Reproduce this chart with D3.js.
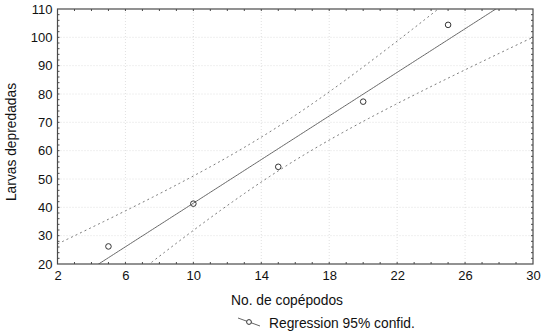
<!DOCTYPE html>
<html>
<head>
<meta charset="utf-8">
<script src="https://cdn.jsdelivr.net/npm/d3@7"></script>
<style>
  html, body { margin: 0; padding: 0; background: #fff; }
  svg { display: block; font-family: "Liberation Sans", Arial, sans-serif; }
</style>
</head>
<body>
<svg id="chart" width="550" height="334"></svg>
<script>
// Observations: number of copepods vs. predated larvae
const copepods = [5, 10, 15, 20, 25];
const larvae = [26.2, 41.3, 54.3, 77.3, 104.4];

const xTicks = [2, 6, 10, 14, 18, 22, 26, 30];
const yTicks = [20, 30, 40, 50, 60, 70, 80, 90, 100, 110];
const xLabel = "No. de copépodos";
const yLabel = "Larvas depredadas";
const legendLabel = "Regression 95% confid.";
const tCrit = 3.182; // Student t, 0.975 quantile, df = 3

const svg = d3.select("#chart");
const padL = 57.5, padR = 533, padT = 9, padB = 264;

const x = d3.scaleLinear().domain([2, 30]).range([padL, padR]);
const y = d3.scaleLinear().domain([20, 110]).range([padB, padT]);

// Least-squares fit with confidence band for the mean
const n = copepods.length;
const mx = d3.mean(copepods), my = d3.mean(larvae);
const sxx = d3.sum(copepods, v => (v - mx) ** 2);
const sxy = d3.sum(copepods, (v, i) => (v - mx) * (larvae[i] - my));
const slope = sxy / sxx, intercept = my - slope * mx;
const sse = d3.sum(copepods, (v, i) => (larvae[i] - (intercept + slope * v)) ** 2);
const s = Math.sqrt(sse / (n - 2));
const fit = v => intercept + slope * v;
const half = v => tCrit * s * Math.sqrt(1 / n + (v - mx) ** 2 / sxx);

const grid = svg.append("g");
// faint grid
grid.selectAll("line.gx").data(xTicks.slice(1, -1)).join("line")
  .attr("x1", d => x(d)).attr("x2", d => x(d)).attr("y1", padT).attr("y2", padB)
  .attr("stroke", "#d8d8d8").attr("stroke-width", 0.8).attr("stroke-dasharray", "1,2");
grid.selectAll("line.gy").data(yTicks.slice(1, -1)).join("line")
  .attr("x1", padL).attr("x2", padR).attr("y1", d => y(d)).attr("y2", d => y(d))
  .attr("stroke", "#d8d8d8").attr("stroke-width", 0.8).attr("stroke-dasharray", "1,2");

svg.append("clipPath").attr("id", "plot").append("rect")
  .attr("x", padL).attr("y", padT).attr("width", padR - padL).attr("height", padB - padT);

const plot = svg.append("g").attr("clip-path", "url(#plot)");
const xs = d3.range(2, 30.001, 0.1);
const lineGen = f => d3.line().x(d => x(d)).y(d => y(f(d)))(xs);

plot.append("path").attr("d", lineGen(v => fit(v) + half(v)))
  .attr("fill", "none").attr("stroke", "#777").attr("stroke-width", 1).attr("stroke-dasharray", "2,3");
plot.append("path").attr("d", lineGen(v => fit(v) - half(v)))
  .attr("fill", "none").attr("stroke", "#777").attr("stroke-width", 1).attr("stroke-dasharray", "2,3");
plot.append("path").attr("d", lineGen(fit))
  .attr("fill", "none").attr("stroke", "#666").attr("stroke-width", 1);

plot.selectAll("circle").data(copepods).join("circle")
  .attr("cx", d => x(d)).attr("cy", (d, i) => y(larvae[i])).attr("r", 2.8)
  .attr("fill", "none").attr("stroke", "#333").attr("stroke-width", 1);

// Axes (major labels outside, minor ticks inward)
const axisColor = "#4a4a4a";
const bottomAxis = d3.axisBottom(x).tickValues(xTicks).tickSize(0).tickPadding(7);
const leftAxis = d3.axisLeft(y).tickValues(yTicks).tickSize(0).tickPadding(5);
const gx = svg.append("g").attr("transform", `translate(0,${padB})`).call(bottomAxis);
const gy = svg.append("g").attr("transform", `translate(${padL},0)`).call(leftAxis);
[gx, gy].forEach(g => {
  g.select(".domain").remove();
  g.selectAll("text").attr("font-size", 13).attr("fill", "#111")
    .attr("font-family", "'Liberation Sans', Arial, sans-serif");
});

const minorX = d3.range(3, 30, 1);
const minorY = d3.range(22, 110, 2);
const ticks = svg.append("g").attr("stroke", axisColor).attr("stroke-width", 1);
ticks.selectAll("line.bx").data(minorX).join("line")
  .attr("x1", d => x(d)).attr("x2", d => x(d)).attr("y1", padB).attr("y2", padB - 2);
ticks.selectAll("line.tx").data(minorX).join("line")
  .attr("x1", d => x(d)).attr("x2", d => x(d)).attr("y1", padT).attr("y2", padT + 2);
ticks.selectAll("line.ly").data(minorY).join("line")
  .attr("x1", padL).attr("x2", padL + 2).attr("y1", d => y(d)).attr("y2", d => y(d));
ticks.selectAll("line.ry").data(minorY).join("line")
  .attr("x1", padR).attr("x2", padR - 2).attr("y1", d => y(d)).attr("y2", d => y(d));

svg.append("rect").attr("x", padL).attr("y", padT)
  .attr("width", padR - padL).attr("height", padB - padT)
  .attr("fill", "none").attr("stroke", axisColor).attr("stroke-width", 1.2);

// Axis titles
svg.append("text").attr("x", 287).attr("y", 305).attr("text-anchor", "middle")
  .attr("font-size", 13.8).attr("fill", "#111").text(xLabel);
svg.append("text").attr("transform", `translate(16,142) rotate(-90)`)
  .attr("text-anchor", "middle").attr("font-size", 13.8).attr("fill", "#111").text(yLabel);

// Legend
const lg = svg.append("g").attr("transform", "translate(238,318)");
lg.append("line").attr("x1", 0).attr("y1", 0).attr("x2", 22).attr("y2", 8)
  .attr("stroke", "#666").attr("stroke-width", 1);
lg.append("circle").attr("cx", 11).attr("cy", 4).attr("r", 2.4)
  .attr("fill", "#fff").attr("stroke", "#333").attr("stroke-width", 1);
lg.append("text").attr("x", 31).attr("y", 10).attr("font-size", 13.8).attr("fill", "#111")
  .text(legendLabel);
</script>
</body>
</html>
